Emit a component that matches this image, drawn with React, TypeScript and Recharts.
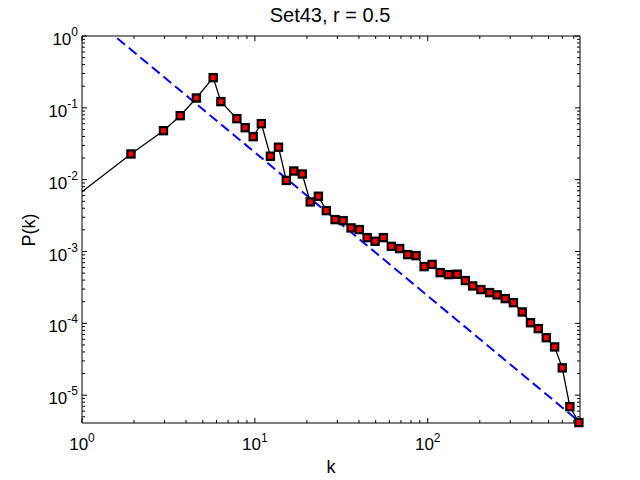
import { LineChart, Line, XAxis, YAxis } from 'recharts';

// degree distribution
const kValues = [
  1, 1.92, 2.96, 3.7, 4.59, 5.74, 6.36, 7.87, 8.79, 9.78, 10.9, 12.3, 13.7, 15.2, 16.8, 18.8, 20.9,
  23.3, 25.9, 29.1, 32.4, 36, 40.2, 44.6, 49.6, 55.4, 61.6, 68.8, 76.6, 85.6, 95.3, 106, 118, 132,
  148, 165, 182, 203, 228, 252, 281, 313, 352, 393, 436, 485, 542, 600, 664, 749,
];
const pValues = [
  0.0068, 0.0228, 0.0481, 0.0778, 0.137, 0.263, 0.122, 0.0707, 0.0529, 0.0397, 0.0602, 0.0212,
  0.0283, 0.00976, 0.0132, 0.012, 0.0049, 0.00588, 0.00371, 0.00278, 0.00269, 0.00213, 0.00202,
  0.00156, 0.00139, 0.00156, 0.00118, 0.0011, 0.000905, 0.000877, 0.000616, 0.000661, 0.000508,
  0.000477, 0.000483, 0.000394, 0.000332, 0.000295, 0.000268, 0.000249, 0.000221, 0.000194,
  0.000144, 0.000102, 0.0000845, 0.0000631, 0.000047, 0.000024, 0.00000693, 0.00000416,
];

// power-law fit (dashed blue)
const fitK = [1.6, 760];
const fitP = [0.93, 0.0000042];

const xDecades = [1, 10, 100];
const yDecades = [0.00001, 0.0001, 0.001, 0.01, 0.1, 1];
const minorSteps = [2, 3, 4, 5, 6, 7, 8, 9];

const X_DOMAIN = [1, 760];
const Y_DOMAIN = [0.0000041, 1];

const data = kValues.map((k, i) => ({ k, p: pValues[i] }));
const fitData = fitK.map((k, i) => ({ k, p: fitP[i] }));

const xTicks = [
  ...xDecades,
  ...xDecades.flatMap((d) => minorSteps.map((m) => m * d)),
].filter((v) => v >= X_DOMAIN[0] && v <= X_DOMAIN[1]);
const yTicks = [
  ...yDecades,
  ...[0.000001, ...yDecades].flatMap((d) => minorSteps.map((m) => m * d)),
].filter((v) => v >= Y_DOMAIN[0] && v <= Y_DOMAIN[1]);

const FONT = '"Liberation Sans", Arial, Helvetica, sans-serif';

const isDecade = (v: number) => {
  const l = Math.log10(v);
  return Math.abs(l - Math.round(l)) < 1e-6;
};
const expOf = (v: number) => String(Math.round(Math.log10(v)));

const BottomTick = ({ x, y, payload }: any) => {
  const major = isDecade(payload.value);
  return (
    <g>
      <line x1={x} y1={y} x2={x} y2={y - (major ? 5 : 3)} stroke="#000" />
      {major && (
        <text x={x} y={y + 27} textAnchor="middle" fontFamily={FONT} fontSize={17} fill="#000">
          <tspan>10</tspan>
          <tspan dy={-8} fontSize={12}>{expOf(payload.value)}</tspan>
        </text>
      )}
    </g>
  );
};

const TopTick = ({ x, y, payload }: any) => (
  <line x1={x} y1={y} x2={x} y2={y + (isDecade(payload.value) ? 5 : 3)} stroke="#000" />
);

const LeftTick = ({ x, y, payload }: any) => {
  const major = isDecade(payload.value);
  return (
    <g>
      <line x1={x} y1={y} x2={x + (major ? 5 : 3)} y2={y} stroke="#000" />
      {major && (
        <text x={x - 4} y={y + 9} textAnchor="end" fontFamily={FONT} fontSize={17} fill="#000">
          <tspan>10</tspan>
          <tspan dy={-9} fontSize={12}>{expOf(payload.value)}</tspan>
        </text>
      )}
    </g>
  );
};

const RightTick = ({ x, y, payload }: any) => (
  <line x1={x} y1={y} x2={x - (isDecade(payload.value) ? 5 : 3)} y2={y} stroke="#000" />
);

const SquareDot = ({ cx, cy, index, payload }: any) => {
  if (payload.k <= X_DOMAIN[0]) return <g key={`d-${index}`} />;
  return (
    <rect
      key={`d-${index}`}
      x={cx - 3.6}
      y={cy - 3.6}
      width={7.2}
      height={7.2}
      fill="#FF0000"
      stroke="#000"
      strokeWidth={2.2}
    />
  );
};

export default function App() {
  return (
    <div style={{ position: 'absolute', left: 0, top: 0, width: 640, height: 480, background: '#fff' }}>
      <LineChart width={640} height={480} margin={{ top: 26, right: 50, bottom: 27, left: 22 }}>
        <XAxis
          xAxisId="b"
          dataKey="k"
          type="number"
          scale="log"
          domain={X_DOMAIN}
          ticks={xTicks}
          interval={0}
          height={30}
          tickSize={0}
          tickMargin={0}
          tickLine={false}
          tick={<BottomTick />}
          stroke="#000"
        />
        <XAxis
          xAxisId="t"
          orientation="top"
          dataKey="k"
          type="number"
          scale="log"
          domain={X_DOMAIN}
          ticks={xTicks}
          interval={0}
          height={10}
          tickSize={0}
          tickMargin={0}
          tickLine={false}
          tick={<TopTick />}
          stroke="#000"
        />
        <YAxis
          yAxisId="l"
          type="number"
          scale="log"
          domain={Y_DOMAIN}
          ticks={yTicks}
          interval={0}
          width={60}
          tickSize={0}
          tickMargin={0}
          tickLine={false}
          tick={<LeftTick />}
          stroke="#000"
        />
        <YAxis
          yAxisId="r"
          orientation="right"
          type="number"
          scale="log"
          domain={Y_DOMAIN}
          ticks={yTicks}
          interval={0}
          width={10}
          tickSize={0}
          tickMargin={0}
          tickLine={false}
          tick={<RightTick />}
          stroke="#000"
        />
        <Line
          xAxisId="t"
          yAxisId="r"
          data={fitData}
          dataKey="p"
          type="linear"
          stroke="#0000FF"
          strokeWidth={2}
          strokeDasharray="10 5"
          dot={false}
          isAnimationActive={false}
        />
        <Line
          xAxisId="b"
          yAxisId="l"
          data={data}
          dataKey="p"
          type="linear"
          stroke="#000"
          strokeWidth={1.3}
          dot={SquareDot}
          activeDot={false}
          isAnimationActive={false}
        />
      </LineChart>
      <svg
        width={640}
        height={480}
        style={{ position: 'absolute', left: 0, top: 0, pointerEvents: 'none' }}
      >
        <text x={330} y={22} textAnchor="middle" fontFamily={FONT} fontSize={20} fill="#000">
          Set43, r = 0.5
        </text>
        <text x={331} y={473} textAnchor="middle" fontFamily={FONT} fontSize={18} fill="#000">
          k
        </text>
        <text
          x={35}
          y={230}
          textAnchor="middle"
          transform="rotate(-90 35 230)"
          fontFamily={FONT}
          fontSize={18}
          fill="#000"
        >
          P(k)
        </text>
      </svg>
    </div>
  );
}
